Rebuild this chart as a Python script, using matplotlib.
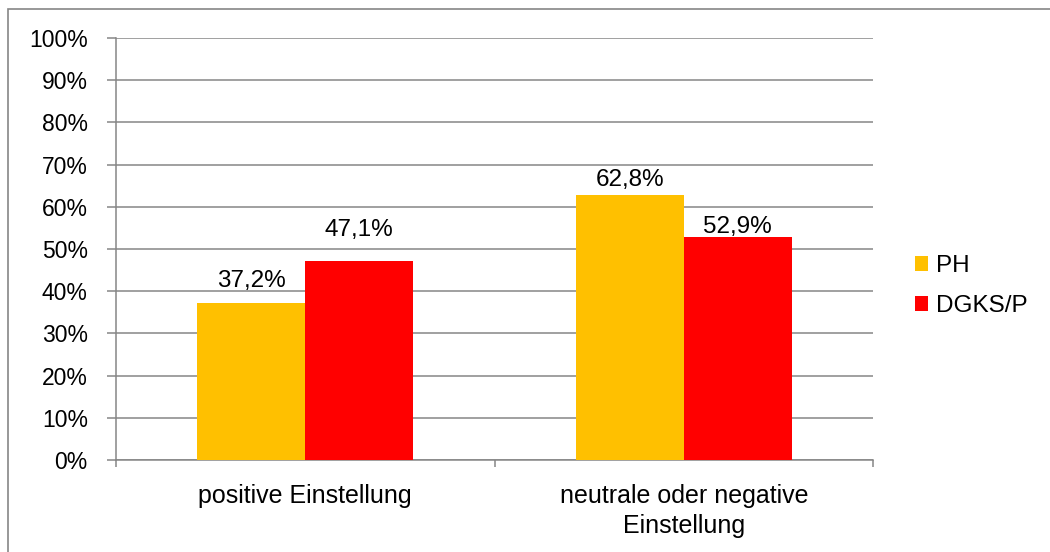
import matplotlib.pyplot as plt
from matplotlib.patches import Rectangle
from matplotlib.ticker import FixedLocator

plt.rcParams['font.family'] = ['Liberation Sans', 'DejaVu Sans']

categories = ['positive Einstellung', 'neutrale oder negative\nEinstellung']
ph = [37.2, 62.8]
dgks = [47.1, 52.9]
series_names = ['PH', 'DGKS/P']
colors = ['#FFC000', '#FF0000']
yticks = list(range(0, 101, 10))

# label gap above each bar (points), as placed in the original chart
ph_gap = [11.5, 6.5]
dgks_gap = [18, 2.5]

grey = '#868686'
fig = plt.figure(figsize=(10.5, 5.52), dpi=100)
ax = fig.add_axes([116 / 1050, 1 - 460 / 552, 757 / 1050, 422 / 552])

# outer chart frame (only top/left visible in the crop)
fig.patches.append(Rectangle((8 / 1050, -0.1), 1.2, 1 - 9 / 552 + 0.1,
                             transform=fig.transFigure, fill=False,
                             edgecolor=grey, linewidth=1.2, zorder=0))

w = 0.285
x = range(len(categories))
for vals, gaps, name, col, off in [(ph, ph_gap, series_names[0], colors[0], -w / 2),
                                   (dgks, dgks_gap, series_names[1], colors[1], w / 2)]:
    bars = ax.bar([i + off for i in x], vals, width=w, color=col, label=name, zorder=3)
    for b, v, g in zip(bars, vals, gaps):
        ax.annotate(f'{v:.1f}%'.replace('.', ','),
                    (b.get_x() + b.get_width() / 2, v),
                    xytext=(0, g), textcoords='offset points',
                    ha='center', va='baseline', fontsize=17.5)

ax.set_xlim(-0.5, 1.5)
ax.set_ylim(0, 100)
ax.set_yticks(yticks)
ax.set_yticklabels([f'{t}%' for t in yticks], fontsize=16.5)
ax.set_xticks(list(x))
ax.set_xticklabels(categories, fontsize=18, linespacing=1.33)
ax.xaxis.set_minor_locator(FixedLocator([-0.5, 0.5, 1.5]))
ax.tick_params(axis='x', which='major', length=0, pad=17)
ax.tick_params(axis='x', which='minor', length=5, color=grey, width=1.1)
ax.tick_params(axis='y', length=6.8, color=grey, width=1.1, pad=13.5)

ax.grid(axis='y', color=grey, linewidth=1.1, zorder=0)
ax.set_axisbelow(True)
for s in ['top', 'right']:
    ax.spines[s].set_visible(False)
for s in ['left', 'bottom']:
    ax.spines[s].set_color(grey)
    ax.spines[s].set_linewidth(1.1)

ax.legend(loc='center left', bbox_to_anchor=(915 / 1050, 1 - 286 / 552),
          bbox_transform=fig.transFigure, frameon=False, fontsize=17.5,
          handlelength=0.55, handleheight=0.55, handletextpad=0.3,
          labelspacing=0.75, borderpad=0, borderaxespad=0)

fig.savefig('out.png', dpi=100)
